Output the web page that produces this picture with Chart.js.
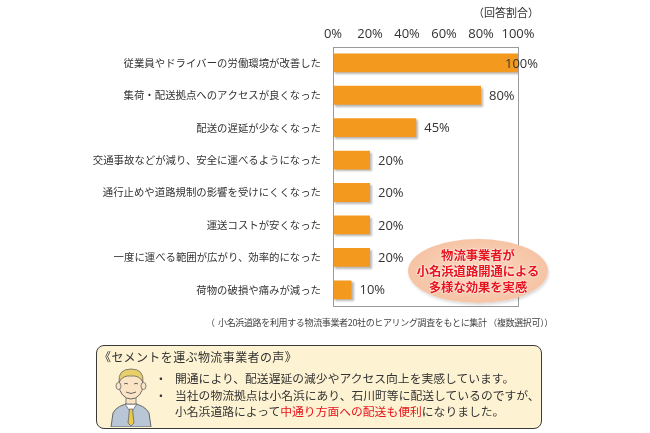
<!DOCTYPE html>
<html>
<head>
<meta charset="utf-8">
<script src="https://cdn.jsdelivr.net/npm/chart.js@4/dist/chart.umd.min.js"></script>
<style>
  html, body { margin: 0; padding: 0; background: #fff; }
  #wrap { position: relative; width: 650px; height: 433px; overflow: hidden; font-family: "Noto Sans CJK JP", sans-serif; color: #333; }
  #chart-box { position: absolute; left: 0; top: 0; width: 650px; height: 433px; }
  .note-unit { position: absolute; left: 473px; top: 4px; font-size: 11px; color: #333; }
  .callout {
    position: absolute; left: 408px; top: 239px; width: 140px; height: 64px; border-radius: 50%;
    background: radial-gradient(ellipse at center, #fbd8c2 0%, #f6c4a5 70%, #f0b590 100%);
    box-shadow: 1px 2px 3px rgba(0,0,0,0.15);
    display: flex; flex-direction: column; align-items: center; justify-content: center;
    font-weight: 700; font-size: 12.3px; line-height: 16px; color: #e8141c;
    text-shadow: 0 0 2px #fff, 0 0 2px #fff;
  }
  .source { position: absolute; left: 206px; top: 316px; font-size: 9px; color: #444; white-space: nowrap; letter-spacing: -0.35px; }
  .voice {
    position: absolute; left: 96px; top: 345px; width: 446px; height: 84px; box-sizing: border-box;
    border: 1.5px solid #3a3a3a; border-radius: 8px; background: #fdf2d2;
  }
  .voice .title { position: absolute; left: 2px; top: 2px; font-size: 12px; letter-spacing: 0.4px; }
  .voice ul { position: absolute; left: 62px; top: 24px; margin: 0; padding: 0; list-style: none; font-size: 11.8px; line-height: 16.5px; }
  .voice li { position: relative; padding-left: 16px; white-space: nowrap; }
  .voice li.b::before { content: "・"; position: absolute; left: -4px; top: 0; }
  .voice .red { color: #e8141c; }
  .voice svg { position: absolute; left: 12px; top: 17px; }
</style>
</head>
<body>
<div id="wrap">
  <div id="chart-box"><canvas id="chart"></canvas></div>
  <div class="note-unit">（回答割合）</div>
  <div class="callout"><div>物流事業者が</div><div>小名浜道路開通による</div><div>多様な効果を実感</div></div>
  <div class="source">（&nbsp;&nbsp;小名浜道路を利用する物流事業者20社のヒアリング調査をもとに集計 （複数選択可））</div>
  <div class="voice">
    <div class="title">《セメントを運ぶ物流事業者の声》</div>
    <svg width="44" height="64" viewBox="0 0 44 64">
      <path d="M2 64 L4 50 Q8 42 22 40 Q36 42 40 50 L42 64 Z" fill="#b9c6d6" stroke="#666" stroke-width="1"/>
      <path d="M16 41 L22 50 L28 41 Z" fill="#fff" stroke="#666" stroke-width="0.8"/>
      <path d="M20.5 46 L23.5 46 L25 60 L22 63 L19 60 Z" fill="#e9c84a" stroke="#666" stroke-width="0.8"/>
      <rect x="17" y="32" width="10" height="9" fill="#fbe4c6" stroke="#666" stroke-width="0.8"/>
      <ellipse cx="22" cy="22" rx="12" ry="14" fill="#fbe4c6" stroke="#666" stroke-width="1"/>
      <ellipse cx="9.5" cy="23" rx="2.5" ry="3.5" fill="#fbe4c6" stroke="#666" stroke-width="0.8"/>
      <ellipse cx="34.5" cy="23" rx="2.5" ry="3.5" fill="#fbe4c6" stroke="#666" stroke-width="0.8"/>
      <path d="M10 19 Q9 6 22 6 Q35 6 34 19 Q30 12 22 13 Q14 12 10 19 Z" fill="#e8cf6a" stroke="#666" stroke-width="0.8"/>
      <path d="M15 21 Q17 19.5 19 21 M25 21 Q27 19.5 29 21" fill="none" stroke="#555" stroke-width="0.9"/>
      <path d="M17 29 Q22 32 27 29" fill="none" stroke="#555" stroke-width="0.9"/>
    </svg>
    <ul>
      <li class="b">開通により、配送遅延の減少やアクセス向上を実感しています。</li>
      <li class="b">当社の物流拠点は小名浜にあり、石川町等に配送しているのですが、</li>
      <li>小名浜道路によって<span class="red">中通り方面への配送も便利</span>になりました。</li>
    </ul>
  </div>
</div>
<script>
'use strict';
const categories = [
  '従業員やドライバーの労働環境が改善した',
  '集荷・配送拠点へのアクセスが良くなった',
  '配送の遅延が少なくなった',
  '交通事故などが減り、安全に運べるようになった',
  '通行止めや道路規制の影響を受けにくくなった',
  '運送コストが安くなった',
  '一度に運べる範囲が広がり、効率的になった',
  '荷物の破損や痛みが減った',
];
const shares = [100, 80, 45, 20, 20, 20, 20, 10];
const xTicks = [0, 20, 40, 60, 80, 100];

const BAR_COLOR = '#f39a1e';
const LATIN = '"Open Sans", "Noto Sans CJK JP", sans-serif';

const framePlugin = {
  id: 'frame',
  beforeDatasetsDraw(chart) {
    const { ctx } = chart;
    ctx.save();
    ctx.shadowColor = 'rgba(0,0,0,0.28)';
    ctx.shadowOffsetX = 2;
    ctx.shadowOffsetY = 2;
    ctx.shadowBlur = 2;
  },
  afterDatasetsDraw(chart) {
    chart.ctx.restore();
  },
  afterDraw(chart) {
    const { ctx, chartArea: a } = chart;
    ctx.save();
    ctx.strokeStyle = '#9a9a9a';
    ctx.lineWidth = 1;
    ctx.strokeRect(Math.round(a.left) + 0.5, Math.round(a.top) + 0.5, Math.round(a.right - a.left), Math.round(a.bottom - a.top));
    // value labels at bar ends
    const meta = chart.getDatasetMeta(0);
    ctx.font = '13px ' + LATIN;
    ctx.fillStyle = '#333';
    ctx.textBaseline = 'middle';
    ctx.textAlign = 'left';
    meta.data.forEach((bar, i) => {
      const txt = shares[i] + '%';
      const w = ctx.measureText(txt).width;
      const x = Math.min(bar.x + 8, 538 - w);
      ctx.fillText(txt, x, bar.y + 1);
    });
    ctx.restore();
  },
};

new Chart(document.getElementById('chart'), {
  type: 'bar',
  data: {
    labels: categories,
    datasets: [{
      data: shares,
      backgroundColor: BAR_COLOR,
      borderWidth: 0,
      categoryPercentage: 1,
      barPercentage: 0.58,
    }],
  },
  options: {
    indexAxis: 'y',
    responsive: true, maintainAspectRatio: false,
    animation: false,
    layout: { padding: { top: 21, right: 132, bottom: 127, left: 0 } },
    plugins: { legend: { display: false }, tooltip: { enabled: false } },
    scales: {
      x: {
        position: 'top',
        min: 0, max: 100,
        afterBuildTicks: s => { s.ticks = xTicks.map(v => ({ value: v })); },
        ticks: {
          color: '#333', font: { family: LATIN, size: 13 }, padding: 5,
          maxRotation: 0, minRotation: 0, autoSkip: false,
          callback: v => v + '%',
        },
        grid: { display: false, drawTicks: false },
        border: { display: false },
      },
      y: {
        afterFit: s => { s.width = 333; },
        ticks: { color: '#333', font: { family: '"Noto Sans CJK JP", sans-serif', size: 10.4 }, padding: 12 },
        grid: { display: false, drawTicks: false },
        border: { display: false },
      },
    },
  },
  plugins: [framePlugin],
});
</script>
</body>
</html>
